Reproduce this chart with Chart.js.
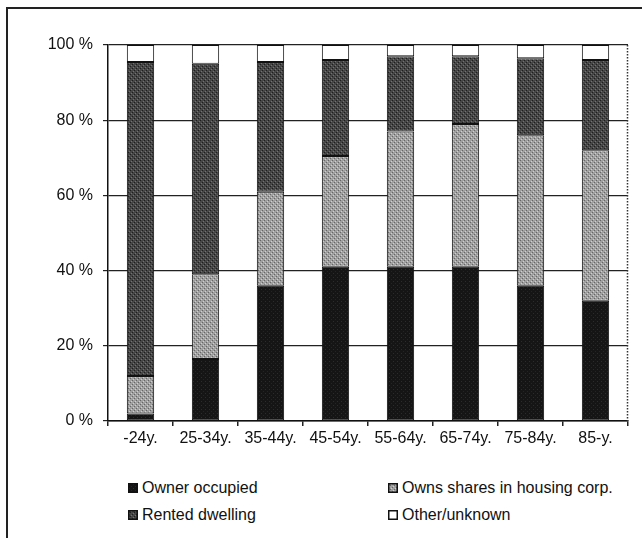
<!DOCTYPE html>
<html><head><meta charset="utf-8">
<script src="https://cdn.jsdelivr.net/npm/chart.js@4"></script>
<style>
html,body{margin:0;padding:0;background:#fff;}
#wrap{position:relative;width:642px;height:538px;overflow:hidden;background:#fff;}
#frame{position:absolute;left:6px;top:7px;width:700px;height:600px;border-left:2px solid #222;border-top:2px solid #222;}
#cv{position:absolute;left:0;top:0;}
.leg{position:absolute;font-family:'Liberation Sans',Arial,sans-serif;font-size:16px;color:#111;white-space:nowrap;line-height:18px;height:18px;}
.leg canvas{position:absolute;left:0;top:4px;}
.leg span{position:absolute;left:14px;top:0;}
</style></head>
<body>
<div id="wrap">
<div id="frame"></div>
<canvas id="cv" width="642" height="460"></canvas>
<div id="legend"></div>
</div>
<script>
const categories = ['-24y.','25-34y.','35-44y.','45-54y.','55-64y.','65-74y.','75-84y.','85-y.'];
const ownerOccupied = [2, 16.5, 36, 41, 41, 41, 36, 32];
const ownsShares = [10, 22.5, 25, 29.5, 36, 38, 40, 40];
const rentedDwelling = [83.5, 56, 34.5, 25.5, 20, 18, 20.5, 24];
const otherUnknown = [4.5, 5, 4.5, 4, 3, 3, 3.5, 4];
const seriesNames = ['Owner occupied','Owns shares in housing corp.','Rented dwelling','Other/unknown'];
const yTicks = [0,20,40,60,80,100];

function pat(base, dots){
  const c=document.createElement('canvas'); c.width=c.height=4;
  const x=c.getContext('2d'); x.fillStyle=base; x.fillRect(0,0,4,4);
  dots.forEach(([px,py,col])=>{x.fillStyle=col;x.fillRect(px,py,1,1);});
  return x.createPattern(c,'repeat');
}
const fills = [
  pat('#151515',[[1,1,'#2c2c2c'],[3,3,'#242424']]),
  pat('#a0a0a0',[[0,0,'#666'],[2,2,'#666'],[1,3,'#cfcfcf'],[3,1,'#cfcfcf']]),
  pat('#464646',[[0,0,'#1e1e1e'],[2,2,'#1e1e1e'],[1,3,'#737373'],[3,1,'#737373']]),
  '#ffffff'
];
const seriesData = [ownerOccupied, ownsShares, rentedDwelling, otherUnknown];

const font = {family:"'Liberation Sans', Arial, sans-serif", size:16};

const frameRight = {
  id:'frameRight',
  afterDatasetsDraw(chart){
    const {ctx, chartArea:a} = chart;
    ctx.save();
    ctx.strokeStyle='#333'; ctx.lineWidth=1.5; ctx.setLineDash([1.5,1.5]);
    ctx.beginPath(); ctx.moveTo(a.right-0.5,a.top); ctx.lineTo(a.right-0.5,a.bottom); ctx.stroke();
    ctx.restore();
  }
};

const chart = new Chart(document.getElementById('cv'), {
  type:'bar',
  data:{
    labels:categories,
    datasets: seriesData.map((d,i)=>({
      label:seriesNames[i], data:d, backgroundColor:fills[i],
      borderColor:'#111', borderWidth:1, borderSkipped:false,
      barPercentage:0.42, categoryPercentage:1
    }))
  },
  options:{
    responsive:false, animation:false,
    layout:{padding:{top:45,right:14,left:0,bottom:0}},
    plugins:{legend:{display:false}, tooltip:{enabled:false}},
    scales:{
      x:{
        stacked:true,
        grid:{drawOnChartArea:false, drawTicks:true, tickLength:5, color:'#222', lineWidth:1.5},
        border:{color:'#111', width:1.5},
        ticks:{font, color:'#111', padding:3, maxRotation:0},
        afterFit(s){ s.height = 39; }
      },
      y:{
        stacked:true, min:0, max:100,
        afterBuildTicks(s){ s.ticks = yTicks.map(v=>({value:v})); },
        grid:{color:'#222', lineWidth:1.2, tickLength:5},
        border:{color:'#111', width:1.5},
        ticks:{font, color:'#111', padding:10, callback:v=>v+' %'},
        afterFit(s){ s.width = 108; }
      }
    }
  },
  plugins:[frameRight]
});

// HTML legend built from the series
const legPos = [[128,479],[388,479],[128,506],[388,506]];
const legendEl = document.getElementById('legend');
seriesNames.forEach((name,i)=>{
  const d=document.createElement('div'); d.className='leg';
  d.style.left=legPos[i][0]+'px'; d.style.top=legPos[i][1]+'px';
  const c=document.createElement('canvas'); c.width=10; c.height=10;
  const x=c.getContext('2d'); x.fillStyle=fills[i]; x.fillRect(0,0,10,10);
  x.strokeStyle='#111'; x.lineWidth=1.5; x.strokeRect(0.75,0.75,8.5,8.5);
  const s=document.createElement('span'); s.textContent=name;
  d.appendChild(c); d.appendChild(s); legendEl.appendChild(d);
});
</script>
</body></html>
